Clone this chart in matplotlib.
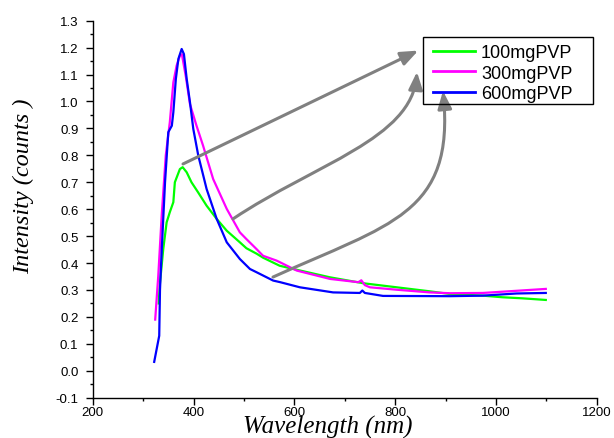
import matplotlib
matplotlib.use("Agg")
import matplotlib.pyplot as plt
from matplotlib.ticker import MultipleLocator, FormatStrFormatter
from matplotlib.patches import FancyArrowPatch, Rectangle
from matplotlib.path import Path

# ---- data ----
labels = ["100mgPVP", "300mgPVP", "600mgPVP"]
colors = ["#00FF00", "#FF00FF", "#0000FF"]

x_100 = [331, 333, 340, 346.7, 353, 360, 363, 373, 378.5, 386.5, 396, 409, 426, 446, 466,
         492, 505, 525, 538, 571, 605, 671, 737, 803, 869, 909, 974, 1013, 1053, 1099]
y_100 = [0.25, 0.316, 0.452, 0.551, 0.589, 0.626, 0.70, 0.749, 0.756, 0.737, 0.70, 0.663,
         0.613, 0.564, 0.52, 0.477, 0.455, 0.435, 0.42, 0.39, 0.375, 0.347, 0.325, 0.31,
         0.295, 0.285, 0.279, 0.273, 0.269, 0.263]

x_300 = [324, 330, 337, 345, 353, 360, 366.5, 373, 377, 385, 393, 406, 419, 439, 466, 492,
         505, 525, 538, 565, 605, 671, 727, 733, 740, 750, 803, 869, 909, 974, 1041, 1099]
y_300 = [0.19, 0.35, 0.58, 0.80, 0.923, 1.071, 1.133, 1.17, 1.175, 1.09, 0.99, 0.91, 0.836,
         0.712, 0.601, 0.514, 0.489, 0.452, 0.427, 0.409, 0.372, 0.341, 0.329, 0.336, 0.318,
         0.310, 0.301, 0.291, 0.288, 0.289, 0.297, 0.304]

x_600 = [322, 332, 333.5, 337, 343.5, 347, 350, 357, 360, 365, 370, 376.5, 381, 386.5, 393,
         399.6, 409.5, 419.5, 426, 446, 466, 492, 512, 525, 558, 572, 611, 677, 730, 735,
         740, 776, 909, 974, 1041, 1099]
y_600 = [0.033, 0.13, 0.30, 0.45, 0.70, 0.80, 0.886, 0.91, 0.96, 1.084, 1.158, 1.195, 1.176,
         1.084, 0.997, 0.898, 0.799, 0.724, 0.675, 0.564, 0.477, 0.415, 0.378, 0.366, 0.335,
         0.329, 0.310, 0.291, 0.289, 0.298, 0.289, 0.278, 0.277, 0.279, 0.287, 0.289]

series_x = [x_100, x_300, x_600]
series_y = [y_100, y_300, y_600]

# annotation arrows (bezier control points, data coordinates)
arrow_paths = [
    [(379.2, 0.768), (846.0, 1.189)],
    [(478.4, 0.564), (641.0, 0.768), (833.5, 0.861), (843.4, 1.110)],
    [(557.7, 0.348), (789.9, 0.545), (918.8, 0.582), (895.0, 1.039)],
]

fig = plt.figure(figsize=(6.14, 4.39), dpi=100)
ax = fig.add_axes([92.7 / 614, 40.3 / 439, 504 / 614, 377 / 439])

for xs, ys, c, lab in zip(series_x, series_y, colors, labels):
    ax.plot(xs, ys, color=c, lw=1.6, label=lab)

for pts in arrow_paths:
    codes = [Path.MOVETO] + ([Path.LINETO] if len(pts) == 2 else [Path.CURVE4] * 3)
    arr = FancyArrowPatch(path=Path(pts, codes),
                          arrowstyle="-|>,head_length=0.75,head_width=0.3",
                          mutation_scale=14, color="#808080", lw=2.2, zorder=5)
    ax.add_patch(arr)

ax.set_xlim(200, 1200)
ax.set_ylim(-0.1, 1.3)
ax.xaxis.set_major_locator(MultipleLocator(200))
ax.xaxis.set_minor_locator(MultipleLocator(100))
ax.yaxis.set_major_locator(MultipleLocator(0.1))
ax.yaxis.set_minor_locator(MultipleLocator(0.05))
ax.yaxis.set_major_formatter(FormatStrFormatter("%.1f"))

for side in ("top", "right"):
    ax.spines[side].set_visible(False)
for side in ("left", "bottom"):
    ax.spines[side].set_linewidth(1.0)

ax.tick_params(which="major", direction="out", length=4.8, width=1, labelsize=9.5)
ax.tick_params(which="minor", direction="out", length=2.4, width=1)
ax.tick_params(axis="y", which="major", pad=5.5)
ax.tick_params(axis="x", which="major", pad=1)
for t in ax.get_xticklabels() + ax.get_yticklabels():
    t.set_family("Liberation Sans")

ax.set_xlabel("Wavelength (nm)", family="Liberation Serif", style="italic", fontsize=18)
ax.xaxis.set_label_coords(0.466, -0.046)
ax.set_ylabel("Intensity (counts )", family="Liberation Serif", style="italic", fontsize=17.5)
ax.yaxis.set_label_coords(-0.1165, 0.563)

leg = ax.legend(loc="upper left", bbox_to_anchor=((433 - 92.7) / 504, (398.7 - 45.0) / 377),
                borderaxespad=0, borderpad=0,
                prop={"family": "Liberation Sans", "size": 13}, handlelength=2.33,
                handletextpad=0.33, labelspacing=0.2, frameon=False)
for h in leg.get_lines():
    h.set_linewidth(2)

fig.patches.append(Rectangle((422.7 / 614, (439 - 105) / 439), 170.3 / 614, 67 / 439,
                             transform=fig.transFigure, fill=False, edgecolor="black",
                             lw=1.0, figure=fig))

fig.savefig("out.png", dpi=100)
